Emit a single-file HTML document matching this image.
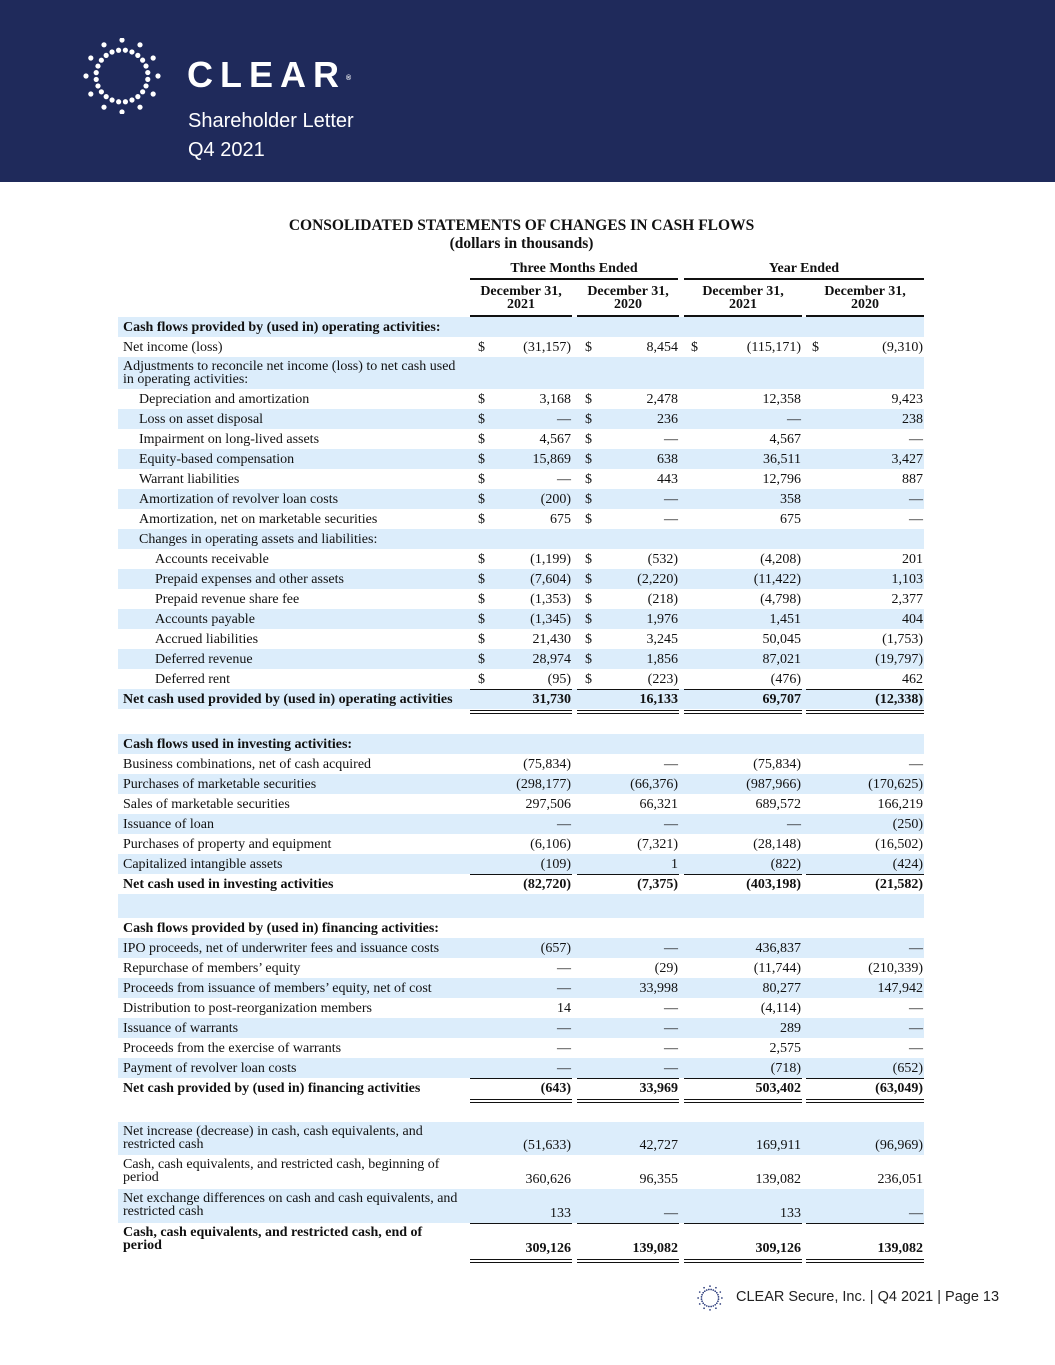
<!DOCTYPE html>
<html><head><meta charset="utf-8">
<style>
body{margin:0;width:1055px;height:1365px;position:relative;background:#fff;font-family:"Liberation Serif",serif;color:#111;overflow:hidden}
.hdr{position:absolute;left:0;top:0;width:1055px;height:182px;background:#1f2a5b}
.a{position:absolute;white-space:nowrap}
.row{position:absolute;left:118px;width:806px}
.sh{background:#dcedfb}
.lbl{position:absolute;font-size:14px;line-height:13px}
.num{position:absolute;font-size:14px;line-height:13px;text-align:right}
.ln{position:absolute;height:1px;background:#111}
.b{font-weight:bold}
</style></head><body>
<div class="hdr">
<svg class="a" style="left:82px;top:38px" width="80" height="76" id="logo"></svg>
<div class="a" style="left:187px;top:55px;font-family:'Liberation Sans',sans-serif;font-weight:bold;font-size:36px;letter-spacing:7px;color:#fff;line-height:40px">CLEAR<sup style="font-size:7px;letter-spacing:0;vertical-align:top;position:relative;top:4px">®</sup></div>
<div class="a" style="left:188px;top:110px;font-family:'Liberation Sans',sans-serif;font-size:20px;color:#fff">Shareholder Letter</div>
<div class="a" style="left:188px;top:139px;font-family:'Liberation Sans',sans-serif;font-size:20px;color:#fff">Q4 2021</div>
</div>
<div class="a b" style="left:0;width:1043px;text-align:center;top:217px;font-size:15.5px">CONSOLIDATED STATEMENTS OF CHANGES IN CASH FLOWS</div>
<div class="a b" style="left:0;width:1043px;text-align:center;top:235px;font-size:15.5px">(dollars in thousands)</div>
<div class="a b" style="left:470px;width:208px;text-align:center;top:261px;font-size:14px">Three Months Ended</div>
<div class="a b" style="left:684px;width:240px;text-align:center;top:261px;font-size:14px">Year Ended</div>
<div class="ln" style="left:470px;width:208px;top:278px;height:2px"></div>
<div class="ln" style="left:684px;width:240px;top:278px;height:2px"></div>
<div id="tbl"></div>
<div class="a" style="left:0;top:0" id="foot">
<svg class="a" style="left:697px;top:1285px" width="26" height="26" id="flogo"></svg>
<div class="a" style="left:736px;top:1289px;font-family:'Liberation Sans',sans-serif;font-size:14.5px;color:#222">CLEAR Secure, Inc. | Q4 2021 | Page 13</div>
</div>
<script>
function dots(svg,cx,cy,s,col){
  var ns="http://www.w3.org/2000/svg";
  [[36,12],[26,24],[17,36]].forEach(function(r,i){
    for(var k=0;k<r[1];k++){var a=k/r[1]*2*Math.PI+i*0.13;
      var c=document.createElementNS(ns,'circle');c.setAttribute('cx',cx+Math.cos(a)*r[0]*s*1);c.setAttribute('cy',cy+Math.sin(a)*r[0]*s);c.setAttribute('r',2.6*s);c.setAttribute('fill',col);
      if(i==2)break;svg.appendChild(c);}
  });
}
dots(document.getElementById('logo'),40,38,1,'#fff');
dots(document.getElementById('flogo'),13,13,0.33,'#2a3a7a');

var heads=[["December 31,","2021",470,572],["December 31,","2020",577,679],["December 31,","2021",684,802],["December 31,","2020",806,924]];
var T=document.getElementById('tbl');
heads.forEach(function(h,i){
  var d=document.createElement('div');d.className='a b';d.style.cssText='left:'+h[2]+'px;width:'+(h[3]-h[2])+'px;text-align:center;top:285px;font-size:14px;line-height:13px';
  d.innerHTML=h[0]+'<br>'+h[1];
  
  
  T.appendChild(d);
  var l=document.createElement('div');l.className='ln';l.style.cssText='left:'+h[2]+'px;width:'+(h[3]-h[2])+'px;top:315px;height:2px';T.appendChild(l);
});
var cols=[[470,572,478],[577,679,585],[684,802,691],[806,924,812]];
var rows=[
["Cash flows provided by (used in) operating activities:",0,1,1,317,20,"",[]],
["Net income (loss)",0,0,0,337,20,"1111",["(31,157)","8,454","(115,171)","(9,310)"]],
["Adjustments to reconcile net income (loss) to net cash used<br>in operating activities:",0,0,1,357,32,"",[]],
["Depreciation and amortization",1,0,0,389,20,"11",["3,168","2,478","12,358","9,423"]],
["Loss on asset disposal",1,0,1,409,20,"11",["—","236","—","238"]],
["Impairment on long-lived assets",1,0,0,429,20,"11",["4,567","—","4,567","—"]],
["Equity-based compensation",1,0,1,449,20,"11",["15,869","638","36,511","3,427"]],
["Warrant liabilities",1,0,0,469,20,"11",["—","443","12,796","887"]],
["Amortization of revolver loan costs",1,0,1,489,20,"11",["(200)","—","358","—"]],
["Amortization, net on marketable securities",1,0,0,509,20,"11",["675","—","675","—"]],
["Changes in operating assets and liabilities:",1,0,1,529,20,"",[]],
["Accounts receivable",2,0,0,549,20,"11",["(1,199)","(532)","(4,208)","201"]],
["Prepaid expenses and other assets",2,0,1,569,20,"11",["(7,604)","(2,220)","(11,422)","1,103"]],
["Prepaid revenue share fee",2,0,0,589,20,"11",["(1,353)","(218)","(4,798)","2,377"]],
["Accounts payable",2,0,1,609,20,"11",["(1,345)","1,976","1,451","404"]],
["Accrued liabilities",2,0,0,629,20,"11",["21,430","3,245","50,045","(1,753)"]],
["Deferred revenue",2,0,1,649,20,"11",["28,974","1,856","87,021","(19,797)"]],
["Deferred rent",2,0,0,669,20,"11",["(95)","(223)","(476)","462"]],
["Net cash used provided by (used in) operating activities",0,1,1,689,20,"",["31,730","16,133","69,707","(12,338)"],1],
["Cash flows used in investing activities:",0,1,1,734,20,"",[]],
["Business combinations, net of cash acquired",0,0,0,754,20,"",["(75,834)","—","(75,834)","—"]],
["Purchases of marketable securities",0,0,1,774,20,"",["(298,177)","(66,376)","(987,966)","(170,625)"]],
["Sales of marketable securities",0,0,0,794,20,"",["297,506","66,321","689,572","166,219"]],
["Issuance of loan",0,0,1,814,20,"",["—","—","—","(250)"]],
["Purchases of property and equipment",0,0,0,834,20,"",["(6,106)","(7,321)","(28,148)","(16,502)"]],
["Capitalized intangible assets",0,0,1,854,20,"",["(109)","1","(822)","(424)"]],
["Net cash used in investing activities",0,1,0,874,20,"",["(82,720)","(7,375)","(403,198)","(21,582)"],1],
["",0,0,1,894,24,"",[]],
["Cash flows provided by (used in) financing activities:",0,1,0,918,20,"",[]],
["IPO proceeds, net of underwriter fees and issuance costs",0,0,1,938,20,"",["(657)","—","436,837","—"]],
["Repurchase of members’ equity",0,0,0,958,20,"",["—","(29)","(11,744)","(210,339)"]],
["Proceeds from issuance of members’ equity, net of cost",0,0,1,978,20,"",["—","33,998","80,277","147,942"]],
["Distribution to post-reorganization members",0,0,0,998,20,"",["14","—","(4,114)","—"]],
["Issuance of warrants",0,0,1,1018,20,"",["—","—","289","—"]],
["Proceeds from the exercise of warrants",0,0,0,1038,20,"",["—","—","2,575","—"]],
["Payment of revolver loan costs",0,0,1,1058,20,"",["—","—","(718)","(652)"]],
["Net cash provided by (used in) financing activities",0,1,0,1078,20,"",["(643)","33,969","503,402","(63,049)"],1],
["Net increase (decrease) in cash, cash equivalents, and<br>restricted cash",0,0,1,1122,33,"",["(51,633)","42,727","169,911","(96,969)"]],
["Cash, cash equivalents, and restricted cash, beginning of<br>period",0,0,0,1155,34,"",["360,626","96,355","139,082","236,051"]],
["Net exchange differences on cash and cash equivalents, and<br>restricted cash",0,0,1,1189,34,"",["133","—","133","—"]],
["Cash, cash equivalents, and restricted cash, end of<br>period",0,1,0,1223,35,"",["309,126","139,082","309,126","139,082"],1]
];
rows.forEach(function(r,i){
  var d=document.createElement('div');d.className='row'+(r[3]?' sh':'');
  d.style.top=r[4]+'px';d.style.height=r[5]+'px';
  
  
  T.appendChild(d);
  var two=r[0].indexOf('<br>')>=0;
  var ty=r[4]+(two?3:4);
  var l=document.createElement('div');l.className='lbl'+(r[2]?' b':'');
  l.style.cssText='left:'+(123+r[1]*16)+'px;top:'+ty+'px';l.innerHTML=r[0];
  
  
  T.appendChild(l);
  var vy=r[4]+r[5]-16;
  r[7].forEach(function(v,j){
    var c=cols[j];
    var n=document.createElement('div');n.className='num'+(r[2]?' b':'');
    n.style.cssText='left:'+c[0]+'px;width:'+(c[1]-c[0]-1)+'px;top:'+vy+'px';n.textContent=v;
    
    
    T.appendChild(n);
    if(r[6][j]==='1'){var s=document.createElement('div');s.className='num';s.style.cssText='left:'+c[2]+'px;top:'+vy+'px';s.textContent='$';T.appendChild(s);}
    if(r[8]){
      [[r[4],1],[r[4]+r[5]+1,1],[r[4]+r[5]+4,1]].forEach(function(p){var k=document.createElement('div');k.className='ln';k.style.cssText='left:'+c[0]+'px;width:'+(c[1]-c[0])+'px;top:'+p[0]+'px';T.appendChild(k);});
    }
  });
});
</script>
</body></html>
